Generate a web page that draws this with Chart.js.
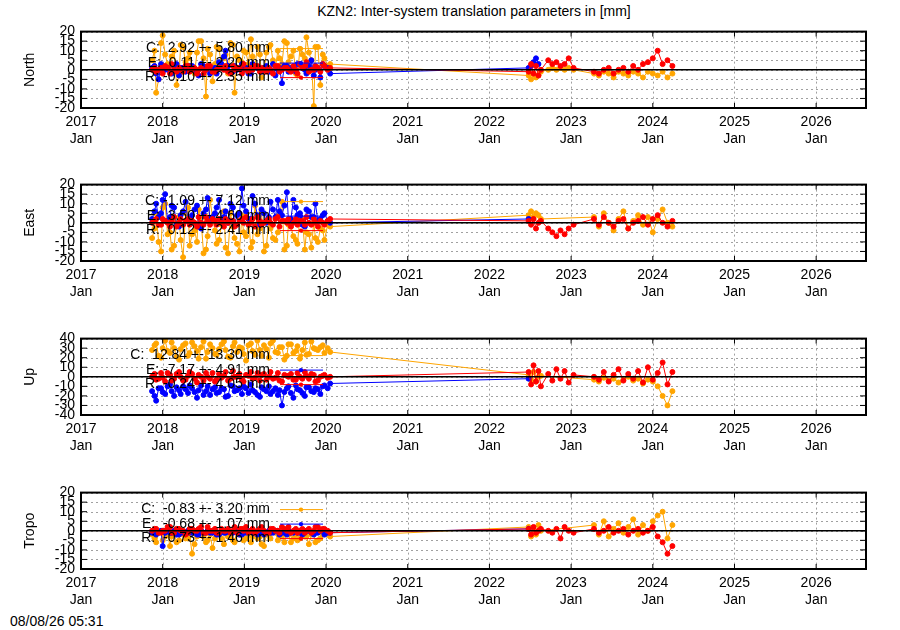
<!DOCTYPE html>
<html><head><meta charset="utf-8">
<script src="https://cdn.jsdelivr.net/npm/chart.js@4.4.1/dist/chart.umd.min.js"></script>
<style>
body{margin:0;background:#fff;width:900px;height:630px;position:relative;overflow:hidden;font-family:"Liberation Sans",Arial,sans-serif}
canvas{position:absolute;left:0}
#title{position:absolute;top:3px;left:0;width:948px;text-align:center;font-size:14px}
#stamp{position:absolute;left:10px;top:613px;font-size:14px}
</style></head><body>
<div id="title">KZN2: Inter-system translation parameters in [mm]</div>
<canvas id="c0" width="900" height="130" style="top:20px"></canvas>
<canvas id="c1" width="900" height="130" style="top:173px"></canvas>
<canvas id="c2" width="900" height="130" style="top:327px"></canvas>
<canvas id="c3" width="900" height="130" style="top:481px"></canvas>
<div id="stamp">08/08/26 05:31</div>
<script>
const xTicks=[2017,2018,2019,2020,2021,2022,2023,2024,2025,2026];
const t1=[2017.87,2017.92,2017.98,2018.03,2018.09,2018.14,2018.20,2018.25,2018.31,2018.36,2018.42,2018.47,2018.53,2018.58,2018.64,2018.69,2018.75,2018.80,2018.86,2018.91,2018.97,2019.02,2019.08,2019.13,2019.19,2019.24,2019.30,2019.35,2019.41,2019.46,2019.52,2019.57,2019.63,2019.68,2019.74,2019.79,2019.85,2019.90,2019.96,2020.05];
const t1b=[2017.90,2017.95,2018.00,2018.06,2018.11,2018.17,2018.22,2018.28,2018.33,2018.39,2018.44,2018.50,2018.55,2018.61,2018.66,2018.72,2018.77,2018.83,2018.88,2018.94,2018.99,2019.05,2019.10,2019.16,2019.21,2019.27,2019.32,2019.38,2019.43,2019.49,2019.54,2019.60,2019.65,2019.71,2019.76,2019.82,2019.87,2019.93,2019.98,2020.02];
const t2=[2022.48,2022.51,2022.54,2022.57,2022.60,2022.63,2022.72,2022.77,2022.82,2022.87,2022.92,2022.97,2023.03,2023.28,2023.34,2023.40,2023.46,2023.52,2023.58,2023.64,2023.70,2023.76,2023.82,2023.88,2023.94,2024.00,2024.06,2024.12,2024.18,2024.24];
const N=null;
// North
const northC1=[5,-12,14,8,2,10,-3,12,6,1,9,15,-14,8,3,11,6,-2,13,7,4,9,16,2,8,-1,12,5,10,3,14,7,-2,11,6,9,-19,12,8,3];
const northC1b=[10,-5,18,3,7,-8,13,4,9,-2,15,6,11,-6,12,2,8,14,-12,5,10,3,7,12,-4,9,13,1,6,15,4,10,-3,8,17,5,12,-8,6,2];
const northC2=[-3,-5,-2,-4,-3,-1,0,1,0,1,0,1,0,-2,-3,-1,-2,-4,-1,-2,-3,-1,-2,-4,-1,-2,-3,-1,-4,-2];
const northE1=[1,-2,3,0,-1,2,-3,1,0,2,-1,3,0,-2,1,4,7,2,-1,0,3,1,-2,2,0,1,-1,3,0,-7,2,1,-1,3,0,2,-3,1,3,-2];
const northE1b=[2,-5,0,1,-2,3,1,-1,2,0,-3,2,1,0,-2,3,10,-1,2,1,0,-2,3,1,-1,2,0,-3,1,2,-1,0,3,1,-2,5,0,-4,2,1];
const northE2=[1,2,4,6,3,N,N,N,N,N,N,N,N,N,N,N,N,N,N,N,N,N,N,N,N,N,N,N,N,N];
const northR1=[0,-1,1,2,-2,0,1,-1,2,0,-2,1,0,2,-1,1,0,-1,2,1,-2,0,1,2,-1,0,1,-2,2,0,1,-1,0,3,2,-1,0,1,3,1];
const northR1b=[1,0,-2,1,3,-1,0,2,-1,1,0,-2,2,-1,0,1,2,-2,0,1,3,-1,0,2,1,-1,0,2,-1,1,0,2,-2,1,4,0,2,-1,2,0];
const northR2=[-1,3,-2,2,-3,0,5,3,4,2,3,6,1,-1,-2,0,1,-2,0,1,-1,2,0,3,4,6,10,3,5,2];
// East
const eastC1=[-8,5,-15,10,-5,-12,3,-18,8,-6,-10,2,-14,12,-4,-9,6,-16,-2,-11,4,-7,-13,9,-3,-15,1,-8,-5,11,-12,-2,-9,3,-14,-6,0,-10,-4,-2];
const eastC1b=[-3,-10,8,-6,-14,0,-9,5,-12,-4,7,-16,-7,3,-11,-1,-13,5,-8,-15,-5,2,-10,-6,6,-12,-3,-9,4,-14,-1,-7,-11,2,-5,-13,-8,-3,-9,-1];
const eastC2=[4,6,3,5,4,2,N,N,N,N,N,N,N,3,-2,5,0,-4,2,6,-3,1,4,-1,3,-5,2,7,0,-2];
const eastE1=[2,10,5,15,3,8,-2,6,1,4,9,-3,7,2,5,12,3,0,8,4,18,6,2,10,-1,5,3,7,12,4,16,2,8,5,-2,6,3,1,4,0];
const eastE1b=[6,3,12,1,9,-1,4,11,2,7,-2,5,13,3,8,1,6,10,-1,5,9,2,14,4,7,0,11,3,6,9,1,12,4,-1,7,3,10,2,5,1];
const eastE2=[2,N,N,N,N,N,N,N,N,N,N,N,N,N,N,N,N,N,N,N,N,N,N,N,N,N,N,N,N,N];
const eastR1=[0,2,-1,1,-2,3,0,-1,2,1,-2,0,3,-1,1,2,-2,0,1,-1,2,3,0,-2,1,0,2,-1,3,1,0,-2,2,1,-1,0,2,-2,0,2];
const eastR1b=[1,-1,2,0,1,-2,2,1,-1,0,3,-1,1,2,-1,0,2,1,-2,1,0,-1,2,3,-1,1,0,2,-2,1,2,0,-1,1,3,-1,0,1,-1,1];
const eastR2=[1,-1,2,-3,0,1,-3,-5,-7,-4,-6,-3,-1,2,-1,3,0,-2,1,2,-3,0,1,3,-1,2,4,0,-2,1];
// Up
const upC1=[28,35,20,38,25,30,18,33,22,36,27,31,19,34,24,29,37,21,32,26,30,17,35,23,28,33,20,38,25,31,22,34,27,19,36,24,30,28,33,26];
const upC1b=[33,22,30,27,36,21,29,35,25,32,19,37,26,30,23,34,28,20,36,31,24,33,27,38,22,29,35,26,31,18,34,25,32,28,23,37,29,31,25,30];
const upC2=[2,-3,5,-5,0,1,N,N,N,N,N,N,N,-3,-5,-1,-4,-2,-6,-3,0,-4,-2,-7,-3,-5,-10,-20,-30,-15];
const upE1=[-15,-25,-12,-18,-8,-20,-14,-10,-17,-12,-22,-9,-15,-19,-11,-16,-13,-20,-10,-14,-18,-12,-8,-16,-21,-13,-10,-15,-19,-30,-12,-17,-9,-14,-20,-11,-16,-13,-10,-7];
const upE1b=[-20,-12,-16,-10,-15,-11,-18,-13,-9,-16,-14,-19,-10,-13,-17,-12,-21,-9,-15,-12,-10,-17,-14,-19,-11,-15,-18,-12,-14,-16,-10,-22,-13,-17,-11,-15,-12,-18,-9,-12];
const upE2=[-2,N,N,N,N,N,N,N,N,N,N,N,N,N,N,N,N,N,N,N,N,N,N,N,N,N,N,N,N,N];
const upR1=[0,-3,4,-5,2,-2,5,-4,1,3,-6,0,4,-2,-5,3,1,-4,6,0,-3,2,5,-1,-4,3,0,-2,4,-5,1,3,-3,0,5,-2,2,-4,1,0];
const upR1b=[3,-2,-1,4,-4,3,0,-3,5,-2,2,-4,0,4,-3,-1,5,-2,0,3,-5,1,-2,4,2,-3,5,-1,-4,2,0,-3,4,-2,1,3,-5,0,2,-1];
const upR2=[5,-8,12,-5,6,-10,3,-4,8,-2,6,-6,2,0,-3,5,-5,2,8,-4,3,-2,6,-6,10,-3,4,15,-8,5];
// Tropo
const troC1=[-2,-6,0,-3,-8,-1,-5,-2,-4,-12,-3,0,-6,-2,-4,-1,-7,-3,-5,0,-2,-4,-6,-1,-3,-8,-2,0,-5,-3,-1,-6,-2,-4,-3,-7,-1,-5,-2,-3];
const troC1b=[-4,-1,-5,-2,-3,-6,0,-4,-2,-7,-1,-3,-5,-9,-2,-4,-1,-3,-6,-2,-5,-1,-3,-4,-7,-2,-4,-1,-3,-6,-2,-4,-5,-1,-3,-2,-6,-4,-1,-2];
const troC2=[2,-3,1,-2,3,0,N,N,N,N,N,N,N,3,-2,5,-3,1,4,-1,2,6,-2,3,0,5,8,10,-4,3];
const troE1=[-1,-2,0,-1,-1,0,-2,-1,0,-1,-2,0,-1,-1,0,-2,-1,0,-1,0,-2,-1,0,-1,-1,-2,0,-1,0,-1,-2,-1,0,-1,-1,0,-2,-1,0,-1];
const troE1b=[-1,-1,-8,0,-1,-2,0,-1,-1,0,-2,-1,0,-1,-2,0,-1,-1,0,-2,-1,0,-1,-2,0,-1,-1,0,-2,-1,0,-1,-1,-2,0,-1,-1,0,-2,-1];
const troE2=[1,N,N,N,N,N,N,N,N,N,N,N,N,N,N,N,N,N,N,N,N,N,N,N,N,N,N,N,N,N];
const troR1=[0,1,-1,0,2,-1,1,0,-1,1,0,2,-1,0,1,-1,0,1,0,-1,1,2,0,-1,1,0,-1,1,0,2,0,-1,1,0,-1,1,0,2,1,-1];
const troR1b=[1,-1,0,2,-1,1,0,-2,1,0,1,-1,2,0,-1,1,0,-1,2,1,0,-1,1,0,2,-1,1,0,-1,1,2,0,-1,1,0,-1,2,0,1,0];
const troR2=[1,-2,2,-1,0,1,0,-1,1,-4,2,0,-1,1,-1,0,2,-1,0,1,-2,0,1,-1,0,2,-3,-6,-12,-8];

const panels=[
 {name:'North',lim:20,step:5,C:[northC1,northC1b,northC2],E:[northE1,northE1b,northE2],R:[northR1,northR1b,northR2],
  leg:['C:  2.92 +- 5.80 mm','E:  0.11 +- 2.20 mm','R: -0.10 +- 2.35 mm']},
 {name:'East',lim:20,step:5,C:[eastC1,eastC1b,eastC2],E:[eastE1,eastE1b,eastE2],R:[eastR1,eastR1b,eastR2],
  leg:['C: -1.09 +- 7.12 mm','E:  3.50 +- 4.60 mm','R:  0.12 +- 2.41 mm']},
 {name:'Up',lim:40,step:10,C:[upC1,upC1b,upC2],E:[upE1,upE1b,upE2],R:[upR1,upR1b,upR2],
  leg:['C:  12.84 +- 13.30 mm','E: -7.17 +- 4.91 mm','R: -0.24 +- 4.05 mm']},
 {name:'Tropo',lim:20,step:5,C:[troC1,troC1b,troC2],E:[troE1,troE1b,troE2],R:[troR1,troR1b,troR2],
  leg:['C:  -0.83 +- 3.20 mm','E:  -0.68 +- 1.07 mm','R:  -0.73 +- 1.46 mm']}
];
const colors={C:'#ffa500',E:'#0000ff',R:'#ff0000'};
function pts(a){const o=[];
 a[0].forEach((v,i)=>o.push({x:t1[i],y:v}));a[1].forEach((v,i)=>o.push({x:t1b[i],y:v}));
 a[2].forEach((v,i)=>o.push({x:t2[i],y:v}));
 return o.sort((p,q)=>p.x-q.x);}

const deco={id:'deco',
 beforeDatasetsDraw(ch){
  const c=ch.ctx,a=ch.chartArea;
  c.save();c.strokeStyle='#a0a0a0';c.lineWidth=1;c.setLineDash([2,3]);
  ch.scales.x.ticks.forEach(t=>{const px=Math.round(ch.scales.x.getPixelForValue(t.value))+0.5;c.beginPath();c.moveTo(px,a.top);c.lineTo(px,a.bottom);c.stroke();});
  ch.scales.y.ticks.forEach(t=>{const py=Math.round(ch.scales.y.getPixelForValue(t.value))+0.5;c.beginPath();c.moveTo(a.left,py);c.lineTo(a.right,py);c.stroke();});
  c.restore();
 },
 afterDatasetsDraw(ch,args,opts){
  const c=ch.ctx,a=ch.chartArea,y=ch.scales.y;
  c.save();
  c.strokeStyle='#000';c.lineWidth=1.5;
  const y0=y.getPixelForValue(0);
  c.beginPath();c.moveTo(a.left,y0);c.lineTo(a.right,y0);c.stroke();
  c.font='14px "Liberation Sans",Arial,sans-serif';c.textAlign='right';c.textBaseline='middle';
  const keys=['C','E','R'];
  opts.leg.forEach((s,i)=>{
    const yy=a.top+17+i*14.5;
    c.fillStyle='#000';c.fillText(s,270,yy);
    c.strokeStyle=colors[keys[i]];c.lineWidth=1;
    c.beginPath();c.moveTo(280,yy);c.lineTo(323,yy);c.stroke();
    c.fillStyle=colors[keys[i]];c.beginPath();c.arc(301,yy,2.2,0,7);c.fill();
  });
  c.strokeStyle='#000';c.lineWidth=2;
  c.strokeRect(a.left,a.top,a.right-a.left,a.bottom-a.top);
  c.lineWidth=1;
  ch.scales.x.ticks.forEach(t=>{const px=ch.scales.x.getPixelForValue(t.value);c.beginPath();c.moveTo(px,a.bottom);c.lineTo(px,a.bottom-5);c.moveTo(px,a.top);c.lineTo(px,a.top+5);c.stroke();});
  y.ticks.forEach(t=>{const py=y.getPixelForValue(t.value);c.beginPath();c.moveTo(a.left,py);c.lineTo(a.left+6,py);c.moveTo(a.right,py);c.lineTo(a.right-6,py);c.stroke();});
  c.restore();
 }};
const FONT='"Liberation Sans",Arial,sans-serif';
panels.forEach((p,k)=>{
 const ds=['R','E','C'].map(key=>({data:pts(p[key]),borderColor:colors[key],backgroundColor:colors[key],
   borderWidth:1,pointRadius:2.5,pointHoverRadius:2.5,spanGaps:true,tension:0}));
 new Chart(document.getElementById('c'+k),{type:'line',data:{datasets:ds},
  options:{responsive:false,animation:false,events:[],
   layout:{padding:{top:8,right:34,bottom:5,left:22}},
   plugins:{legend:{display:false},tooltip:{enabled:false},deco:{leg:p.leg}},
   scales:{
    x:{type:'linear',min:2017,max:2026.61,
      afterBuildTicks(s){s.ticks=xTicks.map(v=>({value:v}));},
      afterFit(s){s.height=37;},
      grid:{display:false,drawTicks:false},border:{display:false},
      ticks:{autoSkip:false,maxRotation:0,padding:6,color:'#000',font:{size:14,family:FONT,lineHeight:1.2},
        callback:v=>[String(v),'Jan']}},
    y:{min:-p.lim,max:p.lim,
      afterBuildTicks(s){const t=[];for(let v=-p.lim;v<=p.lim;v+=p.step)t.push({value:v});s.ticks=t;},
      afterFit(s){s.width=59;},
      grid:{display:false,drawTicks:false},border:{display:false},
      title:{display:true,text:p.name,color:'#000',font:{size:14,family:FONT},padding:{top:0,bottom:4}},
      ticks:{autoSkip:false,padding:6,color:'#000',font:{size:14,family:FONT,lineHeight:0.8}}}
   }},
  plugins:[deco]});
});
</script></body></html>
